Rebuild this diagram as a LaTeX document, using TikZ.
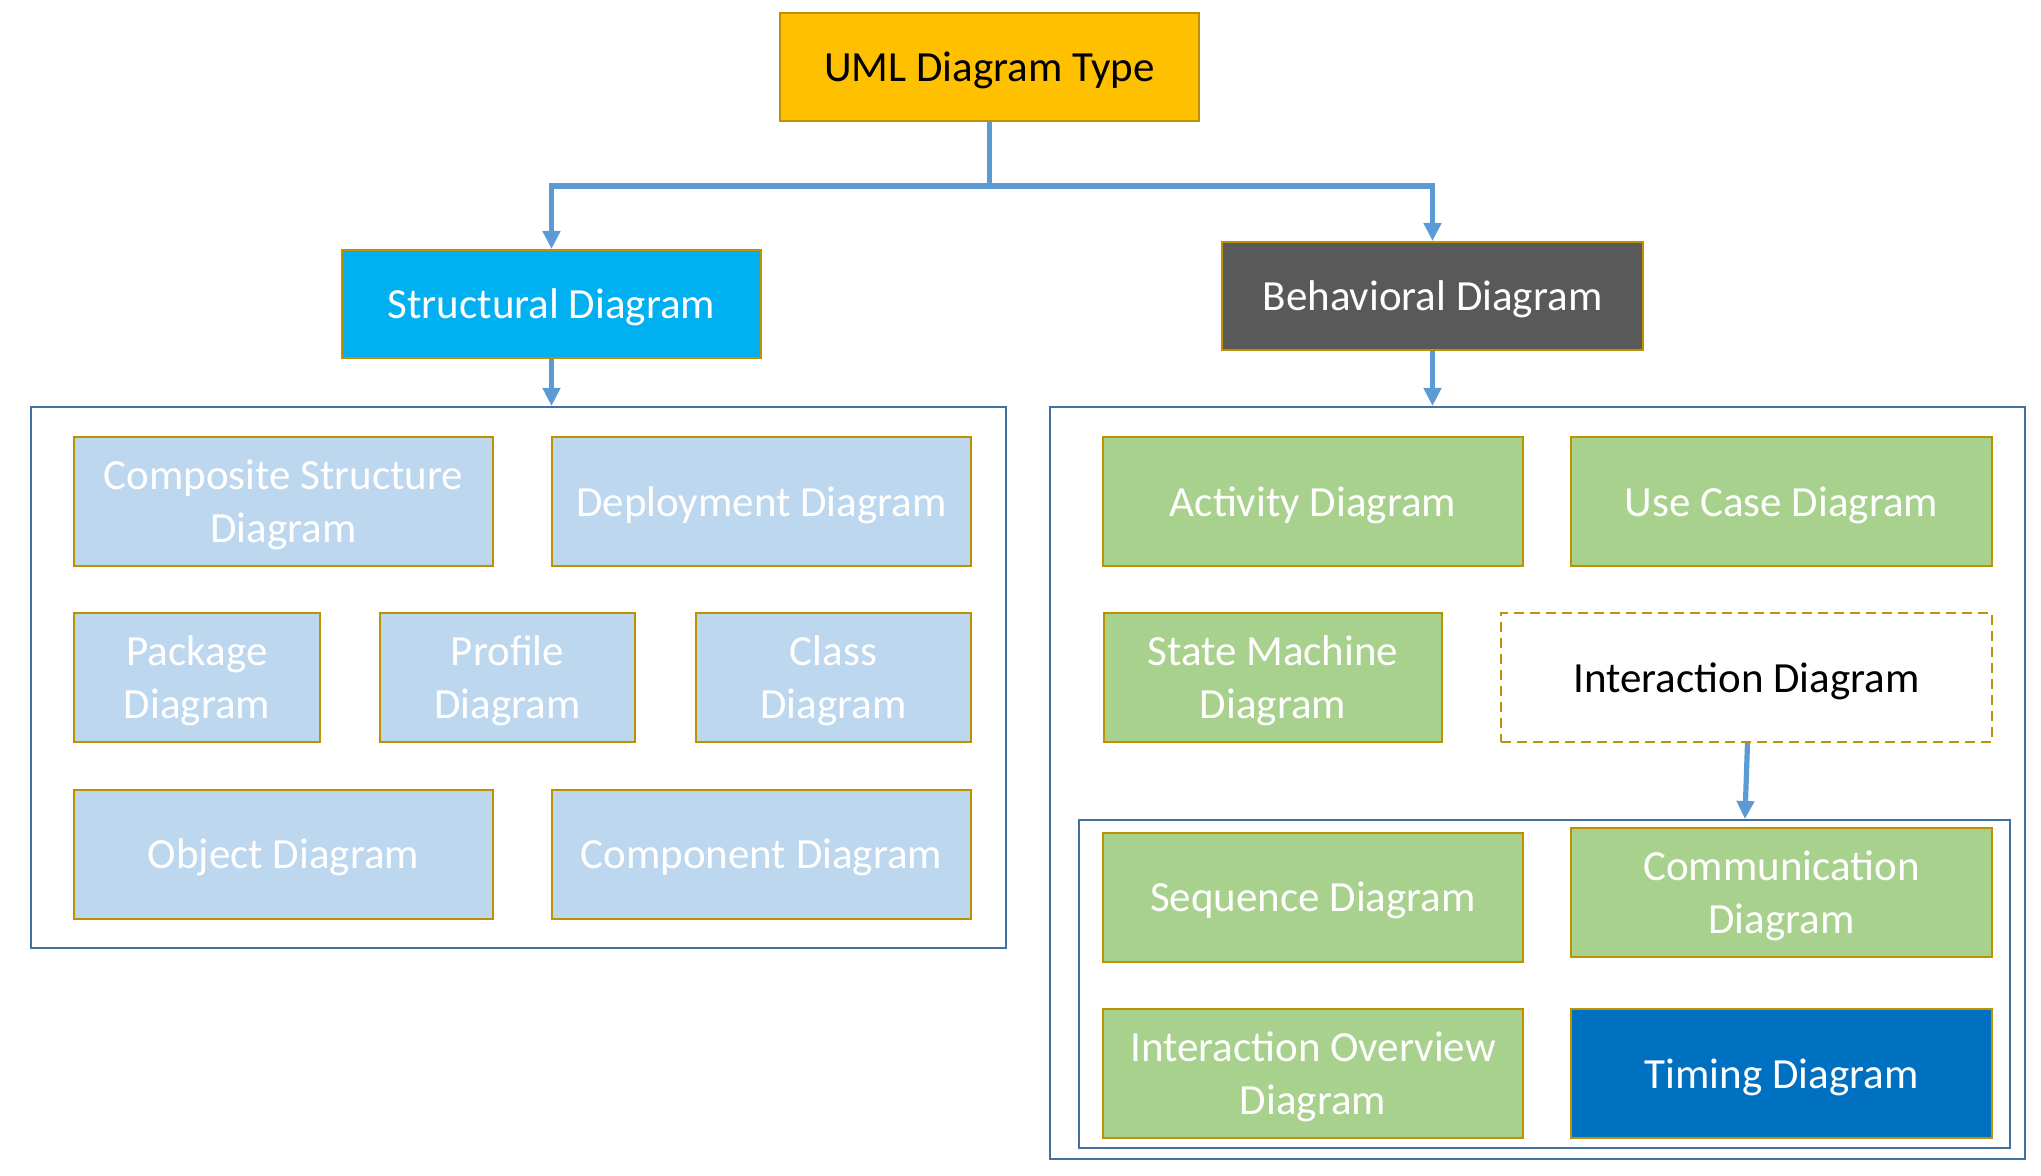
\documentclass[tikz,border=0pt]{standalone}
\usepackage{fontspec}
\setmainfont{Carlito}
\usepackage{xcolor}
\usetikzlibrary{arrows.meta}

\definecolor{umlgold}{HTML}{FFC000}
\definecolor{edgegold}{HTML}{BF9000}
\definecolor{structblue}{HTML}{00B0F0}
\definecolor{behavgrey}{HTML}{595959}
\definecolor{paleblue}{HTML}{BDD7EE}
\definecolor{palegreen}{HTML}{A9D18E}
\definecolor{timingblue}{HTML}{0070C0}
\definecolor{framblue}{HTML}{41719C}
\definecolor{flowblue}{HTML}{5B9BD5}

\begin{document}
\begin{tikzpicture}[
  x=0.5pt, y=-0.5pt,
  font=\fontsize{21.5}{26.5}\selectfont,
  kind/.style={draw=edgegold, line width=1pt, align=center, inner sep=2pt,
               text depth=0pt, minimum height=64.5pt, text=white},
  head/.style={kind, minimum width=209.5pt, minimum height=54pt},
  struct/.style={kind, fill=paleblue},
  behav/.style={kind, fill=palegreen},
  group/.style={draw=framblue, line width=1pt, inner sep=0pt},
  flow/.style={-{Triangle[length=9pt, width=8.5pt]}, draw=flowblue, line width=2.6pt}
]
\useasboundingbox (0,0) rectangle (2041,1176);

% top levels
\node[head, fill=umlgold, text=black]      (uml)    at (989.5,67)  {UML Diagram Type};
\node[head, fill=structblue]               (stru)   at (551.5,304) {Structural Diagram};
\node[head, fill=behavgrey, minimum width=210.5pt] (beha) at (1432.5,296) {Behavioral Diagram};

% group frames
\node[group, minimum width=487.5pt, minimum height=270.5pt] (strgrp) at (518.5,677.5)  {};
\node[group, minimum width=487.5pt, minimum height=376pt]   (behgrp) at (1537.5,783)   {};
\node[group, minimum width=465.5pt, minimum height=164pt]   (intgrp) at (1544.5,984)   {};

% structural diagrams
\node[struct, minimum width=209.5pt] (comp)  at (283.5,501.5) {Composite Structure\\Diagram};
\node[struct, minimum width=209.5pt] (depl)  at (761.5,501.5) {Deployment Diagram};
\node[struct, minimum width=123pt]   (pack)  at (197,677.5)   {Package\\Diagram};
\node[struct, minimum width=127.5pt] (prof)  at (507.5,677.5) {Profile\\Diagram};
\node[struct, minimum width=137.5pt] (clas)  at (833.5,677.5) {Class\\Diagram};
\node[struct, minimum width=209.5pt] (obj)   at (283.5,854)   {Object Diagram};
\node[struct, minimum width=209.5pt] (cmpn)  at (761.5,854)   {Component Diagram};

% behavioral diagrams
\node[behav, minimum width=210pt]    (actv)  at (1313,501.5)   {Activity Diagram};
\node[behav, minimum width=210.5pt]  (usec)  at (1781.5,501.5) {Use Case Diagram};
\node[behav, minimum width=169pt]    (stat)  at (1273,677.5)   {State Machine\\Diagram};
\node[kind, dashed, dash pattern=on 5pt off 3pt, text=black, minimum width=245.5pt]
                                     (intr)  at (1746.5,677.5) {Interaction Diagram};
\node[behav, minimum width=210pt]    (sequ)  at (1313,897)     {Sequence Diagram};
\node[behav, minimum width=210.5pt]  (comm)  at (1781.5,892.5) {Communication\\Diagram};
\node[behav, minimum width=210pt]    (over)  at (1313,1073.5)  {Interaction Overview\\Diagram};
\node[kind, fill=timingblue, minimum width=210.5pt] (timg) at (1781.5,1073.5) {Timing Diagram};

% connectors
\draw[flow] (uml.south) -- ++(0,64) -| (stru.north);
\draw[flow] (uml.south) -- ++(0,64) -| (beha.north);
\draw[flow] (stru.south) -- (stru.south |- strgrp.north);
\draw[flow] (beha.south) -- (beha.south |- behgrp.north);
\draw[flow] ([xshift=0.5pt]intr.south) -- ([xshift=-0.8pt]intr.south |- intgrp.north);
\end{tikzpicture}
\end{document}
